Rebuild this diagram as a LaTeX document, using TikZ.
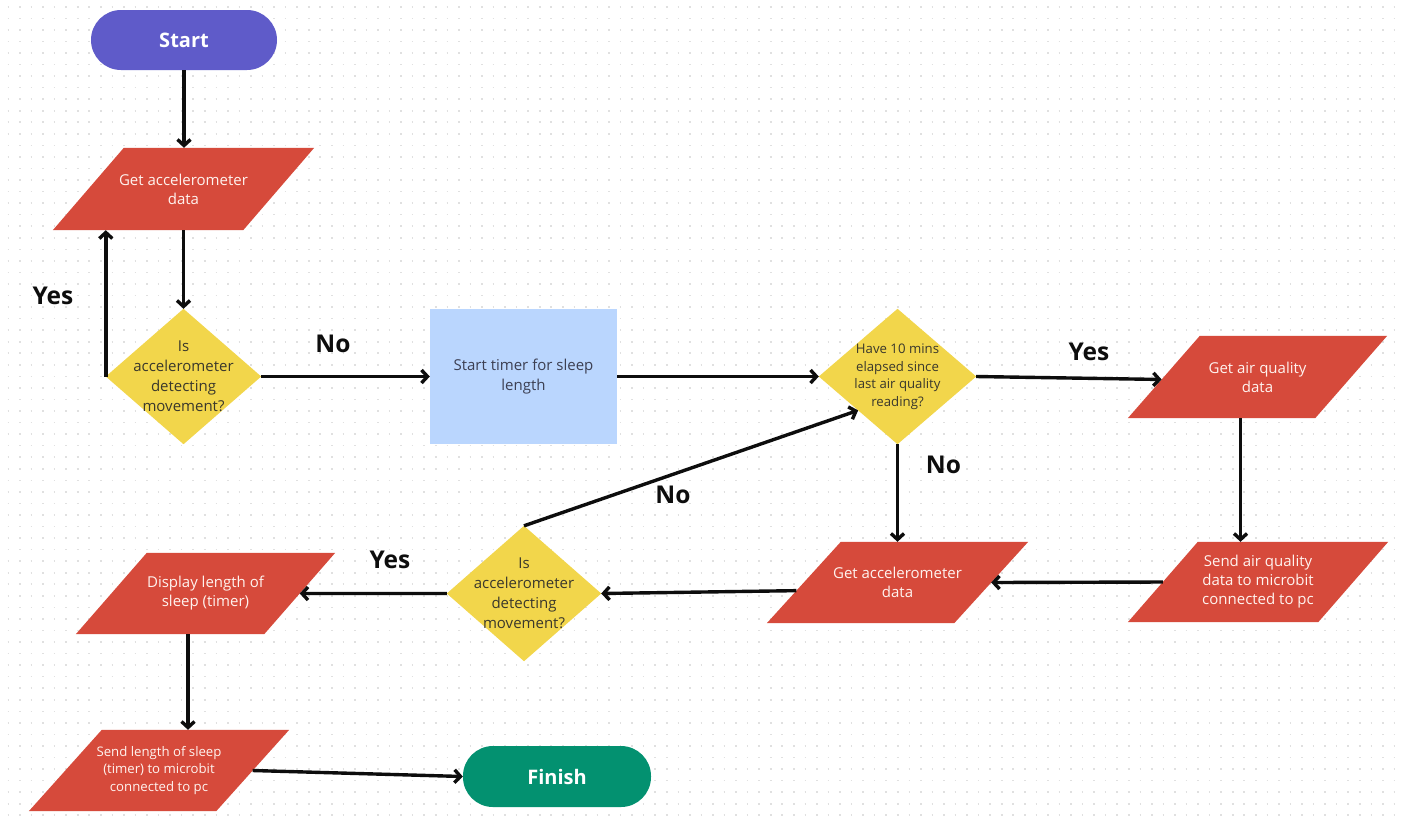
\documentclass[tikz,border=0pt]{standalone}
\usepackage{fontspec}
\setmainfont{Open Sans}
\usetikzlibrary{arrows.meta,calc}

\definecolor{startc}{HTML}{5F5BC9}
\definecolor{finishc}{HTML}{039170}
\definecolor{ioc}{HTML}{D64A3B}
\definecolor{iotxt}{HTML}{FFF3EF}
\definecolor{decc}{HTML}{F2D64B}
\definecolor{dectxt}{HTML}{3A382C}
\definecolor{procc}{HTML}{BAD6FE}
\definecolor{proctxt}{HTML}{3C3F52}
\definecolor{dotc}{HTML}{E0E0E0}
\definecolor{inkc}{HTML}{0D0D0D}

\pgfdeclarelayer{dots}
\pgfdeclarelayer{shapes}
\pgfsetlayers{dots,shapes,main}

% input/output parallelogram behind a node: #1 node name, #2 slant in pt
\newcommand\ioshape[2]{%
  \fill[ioc] ([xshift=#2]#1.north west) -- (#1.north east)
    -- ([xshift=-#2]#1.south east) -- (#1.south west) -- cycle;}
% decision diamond behind a node
\newcommand\decshape[1]{%
  \fill[decc] (#1.north) -- (#1.east) -- (#1.south) -- (#1.west) -- cycle;}

\tikzset{
  box/.style={inner sep=0pt, align=center},
  term/.style={box, rounded corners=30pt, text=white,
    font=\bfseries\fontsize{20}{24}\selectfont},
  io/.style={box, text=iotxt, font=\fontsize{15}{19}\selectfont},
  iosmall/.style={box, text=iotxt, font=\fontsize{13.2}{17.5}\selectfont},
  dec/.style={box, text=dectxt, font=\fontsize{15}{20}\selectfont},
  decsmall/.style={box, text=dectxt, font=\fontsize{13.2}{17.5}\selectfont},
  proc/.style={box, fill=procc, text=proctxt, font=\fontsize{15}{20}\selectfont},
  lbl/.style={inner sep=0pt, text=inkc, font=\bfseries\fontsize{24.5}{28}\selectfont},
  arr/.style={draw=inkc, line width=3.4pt,
    -{Straight Barb[length=6pt,width=13pt]}},
}

\begin{document}
\begin{tikzpicture}[x=1pt,y=-1pt]
\useasboundingbox (0,0) rectangle (1404,823);

% dotted canvas
\begin{pgfonlayer}{dots}
  \fill[white] (0,0) rectangle (1404,823);
  \foreach \r in {0,...,71}
    \draw[dotc, line width=1.6pt, dash pattern=on 1.6pt off 9.95pt]
      (7.6,{6.75+\r*11.55}) -- (1404,{6.75+\r*11.55});
\end{pgfonlayer}

% terminals and process
\node[term, fill=startc, minimum width=186pt, minimum height=60pt] (start) at (184,40) {Start};
\node[term, fill=finishc, minimum width=188pt, minimum height=61pt] (finish) at (557,776.5) {Finish};
\node[proc, minimum width=187pt, minimum height=135pt] (timer) at (523.5,376.5) {Start timer for sleep\\length};

% input/output steps
\node[io, minimum width=261pt, minimum height=82pt] (p1) at (183.5,189) {Get accelerometer\\data};
\node[io, minimum width=259pt, minimum height=82pt] (pair) at (1257.5,377) {Get air quality\\data};
\node[io, minimum width=260pt, minimum height=80pt] (psend) at (1258,582) {Send air quality\\data to microbit\\connected to pc};
\node[io, minimum width=261pt, minimum height=81pt] (get2) at (897.5,582.5) {Get accelerometer\\data};
\node[io, minimum width=259pt, minimum height=81pt] (disp) at (205.5,593.5) {Display length of\\sleep (timer)};
\node[iosmall, minimum width=260pt, minimum height=81pt] (sendlen) at (159,770.5) {Send length of sleep\\(timer) to microbit\\connected to pc};

% decisions
\node[dec, minimum width=155pt, minimum height=135pt] (d1) at (183.5,376.5) {Is\\accelerometer\\detecting\\movement?};
\node[decsmall, minimum width=157pt, minimum height=135pt] (d2) at (897.5,376.5) {Have 10 mins\\elapsed since\\last air quality\\reading?};
\node[dec, minimum width=154pt, minimum height=135pt] (d3) at (524,593.5) {Is\\accelerometer\\detecting\\movement?};

\begin{pgfonlayer}{shapes}
  \ioshape{p1}{71}
  \ioshape{pair}{72}
  \ioshape{psend}{70}
  \ioshape{get2}{74}
  \ioshape{disp}{71}
  \ioshape{sendlen}{73}
  \decshape{d1}
  \decshape{d2}
  \decshape{d3}
\end{pgfonlayer}

% connectors
\draw[arr] (start.south) -- (start.south |- p1.north);
\draw[arr] (p1.south) -- (d1.north);
\draw[arr] (d1.west) -- (d1.west |- p1.south);
\draw[arr] (d1.east) -- (timer.west);
\draw[arr] (timer.east) -- (d2.west);
\draw[arr] (d2.east) -- ($([xshift=72]pair.north west)!0.53!(pair.south west)$);
\draw[arr] ([xshift=-17]pair.south) -- ([xshift=-17]pair.south |- psend.north);
\draw[arr] ($([xshift=70]psend.north west)!0.5!(psend.south west)$) -- ($(get2.north east)!0.5!([xshift=-74]get2.south east)$);
\draw[arr] (d2.south) -- (d2.south |- get2.north);
\draw[arr] ($([xshift=74]get2.north west)!0.6!(get2.south west)$) -- (d3.east);
\draw[arr] (d3.north) -- ($(d2.west)!0.5!(d2.south)$);
\draw[arr] (d3.west) -- ($(disp.north east)!0.5!([xshift=-71]disp.south east)$);
\draw[arr] ([xshift=-17.5]disp.south) -- ([xshift=-17.5]disp.south |- sendlen.north);
\draw[arr] ($(sendlen.north east)!0.5!([xshift=-73]sendlen.south east)$) -- (finish.west);

% branch labels
\node[lbl] (yes1) at (53,296) {Yes};
\node[lbl] (no1) at (333,344) {No};
\node[lbl] (yes2) at (1089,352) {Yes};
\node[lbl] (no2) at (943.5,465) {No};
\node[lbl] (no3) at (673,495) {No};
\node[lbl] (yes3) at (390,560) {Yes};
\end{tikzpicture}
\end{document}
